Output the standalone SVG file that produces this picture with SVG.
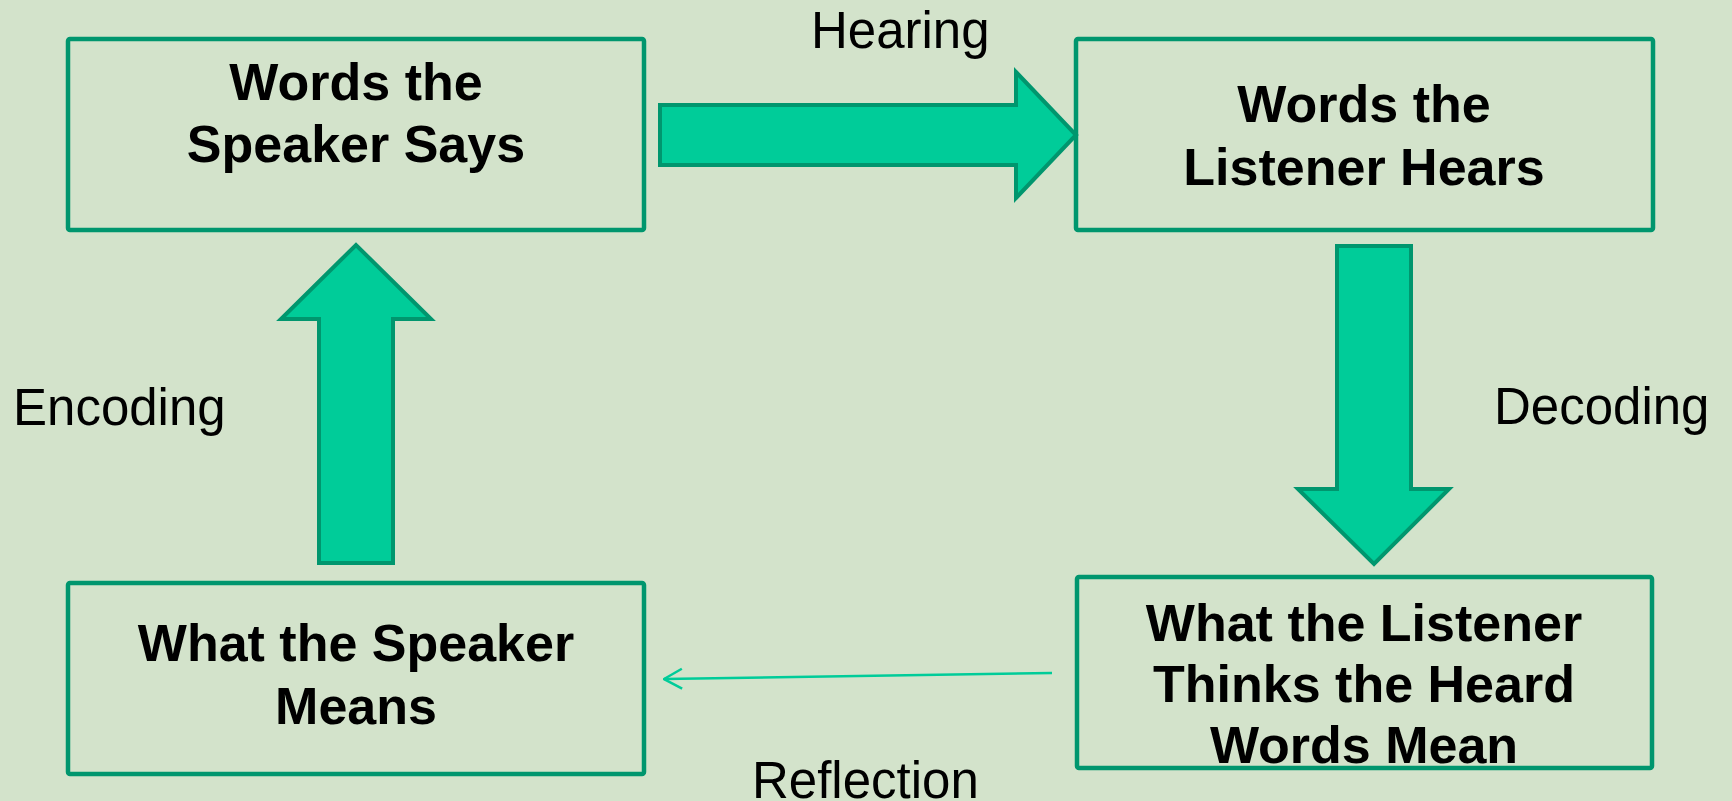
<svg xmlns="http://www.w3.org/2000/svg" width="1732" height="801" viewBox="0 0 1732 801">
<defs>
<style>
.box{fill:none;stroke:#00966E;stroke-width:4.5;stroke-linejoin:round}
.big{fill:#00CC99;stroke:#00966E;stroke-width:4;stroke-linejoin:miter}
.bt{font-family:"Liberation Sans",Arial,sans-serif;font-weight:bold;font-size:52px;fill:#000;text-anchor:middle}
.lt{font-family:"Liberation Sans",Arial,sans-serif;font-size:51px;fill:#000}
.thin{fill:none;stroke:#00CC99;stroke-width:2.5}
</style>
<marker id="open" viewBox="0 0 20 24" refX="19" refY="12" markerWidth="20" markerHeight="24" markerUnits="userSpaceOnUse" orient="auto">
<path d="M1,2 L19,12 L1,22" fill="none" stroke="#00CC99" stroke-width="2.5"/>
</marker>
</defs>
<rect width="1732" height="801" fill="#D3E3CB"/>
<g id="connectors">
<path id="hearing-arrow" class="big" d="M660,105 L1016,105 L1016,72 L1076,135 L1016,198 L1016,165 L660,165 Z"/>
<path id="decoding-arrow" class="big" d="M1337,246 L1411,246 L1411,489 L1449,489 L1374,564 L1298,489 L1337,489 Z"/>
<path id="encoding-arrow" class="big" d="M319,563 L393,563 L393,319 L431,319 L356,245 L281,319 L319,319 Z"/>
<line id="reflection-arrow" class="thin" x1="1052" y1="673" x2="664" y2="679" marker-end="url(#open)"/>
<text class="lt" x="811" y="48">Hearing</text>
<text class="lt" x="1494" y="424">Decoding</text>
<text class="lt" x="13" y="425">Encoding</text>
<text class="lt" x="752" y="798">Reflection</text>
</g>
<g id="node-speaker-says">
<rect class="box" x="68" y="39" width="576" height="191" rx="2"/>
<text class="bt" x="356" y="100">Words the</text>
<text class="bt" x="356" y="162">Speaker Says</text>
</g>
<g id="node-listener-hears">
<rect class="box" x="1076" y="39" width="577" height="191" rx="2"/>
<text class="bt" x="1364" y="122">Words the</text>
<text class="bt" x="1364" y="185">Listener Hears</text>
</g>
<g id="node-speaker-means">
<rect class="box" x="68" y="583" width="576" height="191" rx="2"/>
<text class="bt" x="356" y="661">What the Speaker</text>
<text class="bt" x="356" y="724">Means</text>
</g>
<g id="node-listener-thinks">
<rect class="box" x="1077" y="577" width="575" height="191" rx="2"/>
<text class="bt" x="1364" y="641">What the Listener</text>
<text class="bt" x="1364" y="702">Thinks the Heard</text>
<text class="bt" x="1364" y="763">Words Mean</text>
</g>
</svg>
